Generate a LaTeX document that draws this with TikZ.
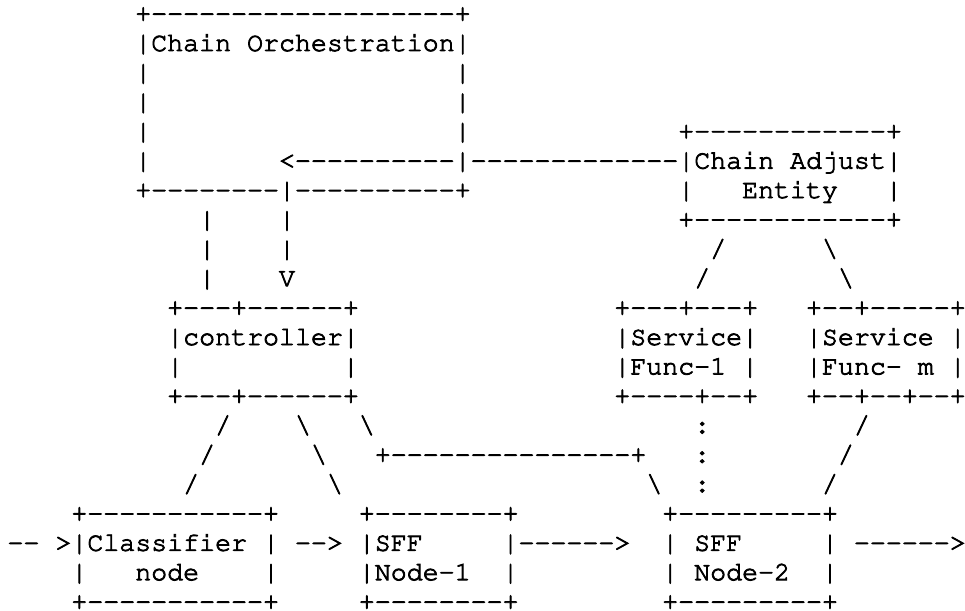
\documentclass[tikz,border=0pt]{standalone}
\usepackage[T1]{fontenc}
% n hyphens, kept apart so that no dash ligature forms
\ExplSyntaxOn
\newcommand\dsh[1]{\prg_replicate:nn{#1}{-{}}}
\ExplSyntaxOff
% glyphs filled and stroked, for a slightly heavier typewriter face
\newcommand\heavytext{\special{pdf:literal direct 2 Tr 0.8 w}}
% one character cell: 15.97 wide, 29.4 line pitch
\newcommand\asc[4]{\node[asc] (#1) at ({7.5+15.97*#2},{21.6+29.4*(#3-1)}) {\heavytext#4};}
\newcommand\bs{\textbackslash}
\begin{document}
\begin{tikzpicture}[x=1pt,y=-1pt,
  asc/.style={anchor=base west,inner sep=0pt,outer sep=0pt,text depth=0pt,
    font=\fontencoding{T1}\fontfamily{pcr}\fontseries{m}\fontshape{n}\fontsize{26.62}{29.4}\selectfont,
    text=black}]
\useasboundingbox (0,0) rectangle (965,610);
% Chain Orchestration box
\asc{r1a}{8}{1}{+\dsh{19}+}
\asc{r2a}{8}{2}{|Chain Orchestration|}
\asc{r3a}{8}{3}{|}\asc{r3b}{28}{3}{|}
\asc{r4a}{8}{4}{|}\asc{r4b}{28}{4}{|}
\asc{r5a}{8}{5}{|}\asc{r5b}{28}{5}{|}
\asc{r5c}{42}{5}{+\dsh{12}+}
\asc{r6a}{8}{6}{|}
\asc{r6b}{17}{6}{<\dsh{10}|\dsh{13}|Chain Adjust|}
\asc{r7a}{8}{7}{+\dsh{8}|\dsh{10}+}
\asc{r7b}{42}{7}{|}\asc{r7c}{46}{7}{Entity}\asc{r7d}{55}{7}{|}
\asc{r8a}{12}{8}{|}\asc{r8b}{17}{8}{|}
\asc{r8c}{42}{8}{+\dsh{12}+}
\asc{r9a}{12}{9}{|}\asc{r9b}{17}{9}{|}
\asc{r9c}{44}{9}{/}\asc{r9d}{51}{9}{\bs}
\asc{r10a}{12}{10}{|}\asc{r10b}{17}{10}{V}
\asc{r10c}{43}{10}{/}\asc{r10d}{52}{10}{\bs}
% controller and service functions
\asc{r11a}{10}{11}{+\dsh{3}+\dsh{6}+}
\asc{r11b}{38}{11}{+\dsh{3}+\dsh{3}+}
\asc{r11c}{50}{11}{+\dsh{2}+\dsh{5}+}
\asc{r12a}{10}{12}{|controller|}
\asc{r12b}{38}{12}{|Service|}
\asc{r12c}{50}{12}{|Service}\asc{r12d}{59}{12}{|}
\asc{r13a}{10}{13}{|}\asc{r13b}{21}{13}{|}
\asc{r13c}{38}{13}{|Func-1}\asc{r13d}{46}{13}{|}
\asc{r13e}{50}{13}{|Func-}\asc{r13f}{57}{13}{m}\asc{r13g}{59}{13}{|}
\asc{r14a}{10}{14}{+\dsh{3}+\dsh{6}+}
\asc{r14b}{38}{14}{+\dsh{4}+\dsh{2}+}
\asc{r14c}{50}{14}{+\dsh{2}+\dsh{2}+\dsh{2}+}
% links down to the forwarders
\asc{r15a}{13}{15}{/}\asc{r15b}{18}{15}{\bs}\asc{r15c}{22}{15}{\bs}
\asc{r15d}{43}{15}{:}\asc{r15e}{53}{15}{/}
\asc{r16a}{12}{16}{/}\asc{r16b}{19}{16}{\bs}
\asc{r16c}{23}{16}{+\dsh{15}+}
\asc{r16d}{43}{16}{:}\asc{r16e}{52}{16}{/}
\asc{r17a}{11}{17}{/}\asc{r17b}{20}{17}{\bs}\asc{r17c}{40}{17}{\bs}
\asc{r17d}{43}{17}{:}\asc{r17e}{51}{17}{/}
% classifier and SFF nodes
\asc{r18a}{4}{18}{+\dsh{11}+}
\asc{r18b}{22}{18}{+\dsh{8}+}
\asc{r18c}{41}{18}{+\dsh{9}+}
\asc{r19a}{0}{19}{\dsh{2}}
\asc{r19b}{3}{19}{>|Classifier}\asc{r19c}{16}{19}{|}
\asc{r19d}{18}{19}{\dsh{2}>}
\asc{r19e}{22}{19}{|SFF}
\asc{r19f}{31}{19}{|\dsh{6}>}
\asc{r19g}{41}{19}{|}\asc{r19h}{43}{19}{SFF}\asc{r19i}{51}{19}{|}
\asc{r19j}{53}{19}{\dsh{6}>}
\asc{r20a}{4}{20}{|}\asc{r20b}{8}{20}{node}\asc{r20c}{16}{20}{|}
\asc{r20d}{22}{20}{|Node-1}\asc{r20e}{31}{20}{|}
\asc{r20f}{41}{20}{|}\asc{r20g}{43}{20}{Node-2}\asc{r20h}{51}{20}{|}
\asc{r21a}{4}{21}{+\dsh{11}+}
\asc{r21b}{22}{21}{+\dsh{8}+}
\asc{r21c}{41}{21}{+\dsh{9}+}
\end{tikzpicture}
\end{document}
